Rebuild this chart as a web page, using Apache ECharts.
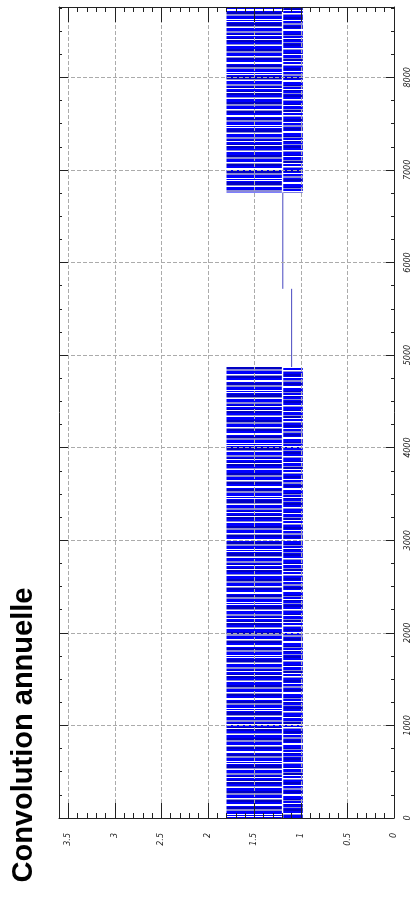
<!DOCTYPE html>
<html>
<head>
<meta charset="utf-8">
<script src="https://cdn.jsdelivr.net/npm/echarts@6/dist/echarts.min.js"></script>
<style>
html,body{margin:0;padding:0;background:#fff;}
#chart{width:414px;height:903px;}
</style>
</head>
<body>
<div id="chart"></div>
<script>
// ---- data ----
const titleText = 'Convolution annuelle';
// dense oscillating periods (hours of the year)
const denseStart = [0, 6756];
const denseEnd = [4871, 8760];
// envelope of the signal in the dense periods (upper and lower lobes)
const upperLo = [1.205, 1.205];
const upperHi = [1.80, 1.80];
const lowerLo = [0.98, 0.98];
const lowerHi = [1.19, 1.19];
// flat periods
const flat1Hours = [4871, 5716];
const flat1Values = [1.10, 1.10];
const flat2Hours = [5716, 6756];
const flat2Values = [1.195, 1.195];
// axes
const valueMajorTicks = [0, 0.5, 1, 1.5, 2, 2.5, 3, 3.5];
const valueMinorTicks = [0.1,0.2,0.3,0.4,0.6,0.7,0.8,0.9,1.1,1.2,1.3,1.4,1.6,1.7,1.8,1.9,2.1,2.2,2.3,2.4,2.6,2.7,2.8,2.9,3.1,3.2,3.3,3.4];
const hourMajorTicks = [0, 1000, 2000, 3000, 4000, 5000, 6000, 7000, 8000];
const hourMinorTicks = [250,500,750,1250,1500,1750,2250,2500,2750,3250,3500,3750,4250,4500,4750,5250,5500,5750,6250,6500,6750,7250,7500,7750,8250,8500,8750];
const valueMax = 3.6;
const hourMax = 8760;

// ---- stripe texture for the dense trace ----
function makePattern(rows) {
  const cmap = {B:'#0000ff', D:'#0000c4', W:'#ffffff', G:'#8a8ad6', L:'#3c3cf0'};
  const c = document.createElement('canvas');
  c.width = 4; c.height = rows.length;
  const ctx = c.getContext('2d');
  for (let i = 0; i < rows.length; i++) {
    ctx.fillStyle = cmap[rows[i]];
    ctx.fillRect(0, i, 4, 1);
  }
  return c;
}
const patUpper = makePattern('BBBWGDDBBWWBDDGGBBBWBWBDDDGWBBBGGBDWBBDWDDBBGWBBBDDGG'.split(''));
const patLower = makePattern('BBDWBBBGDDWBBWGBBDDBWBBGGBDDBWWBBBDGBBWDBBGBDDBBWGB'.split(''));

const bandData = [];
for (let i = 0; i < denseStart.length; i++) {
  bandData.push([denseStart[i], denseEnd[i], upperLo[i], upperHi[i], 0]);
  bandData.push([denseStart[i], denseEnd[i], lowerLo[i], lowerHi[i], 1]);
}

const axisColor = '#222';
const gridLine = {show: true, lineStyle: {color: '#ababab', width: 1, type: [4, 2]}};
const labelFont = {fontSize: 8, fontStyle: 'italic', fontFamily: 'DejaVu Sans', color: '#222'};

function xAx(pos, ticks, len, opts) {
  return Object.assign({
    type: 'value', position: pos, inverse: true, min: 0, max: valueMax, interval: 0.5,
    z: 5,
    axisLine: {show: false, onZero: false},
    axisTick: {show: true, inside: true, length: len, customValues: ticks, lineStyle: {color: axisColor, width: 1}},
    axisLabel: {show: false},
    splitLine: {show: false}
  }, opts || {});
}
function yAx(pos, ticks, len, opts) {
  return Object.assign({
    type: 'value', position: pos, min: 0, max: hourMax, interval: 1000,
    z: 5,
    axisLine: {show: false, onZero: false},
    axisTick: {show: true, inside: true, length: len, customValues: ticks, lineStyle: {color: axisColor, width: 1}},
    axisLabel: {show: false},
    splitLine: {show: false}
  }, opts || {});
}
const frameLine = {show: true, onZero: false, lineStyle: {color: axisColor, width: 1}};

const chart = echarts.init(document.getElementById('chart'), null, {renderer: 'canvas'});
chart.setOption({
  animation: false,
  backgroundColor: '#fff',
  grid: {left: 59, right: 20, top: 7, bottom: 85, containLabel: false},
  graphic: [{
    type: 'text', x: 24, y: 735, rotation: Math.PI / 2,
    style: {text: titleText, font: 'bold 29px "Liberation Sans"', fill: '#000', textAlign: 'center', textVerticalAlign: 'middle'}
  }],
  xAxis: [
    xAx('bottom', valueMajorTicks, 15, {
      axisLine: frameLine,
      axisLabel: Object.assign({show: true, customValues: valueMajorTicks, rotate: 90, margin: 15,
        formatter: v => String(v)}, labelFont),
      splitLine: gridLine
    }),
    xAx('bottom', valueMinorTicks, 5),
    xAx('top', valueMajorTicks, 15, {axisLine: frameLine}),
    xAx('top', valueMinorTicks, 5)
  ],
  yAxis: [
    yAx('right', hourMajorTicks, 8, {
      axisLine: frameLine,
      axisLabel: Object.assign({show: true, customValues: hourMajorTicks, rotate: 90, margin: 10,
        formatter: v => String(v)}, labelFont),
      splitLine: gridLine
    }),
    yAx('right', hourMinorTicks, 3),
    yAx('left', hourMajorTicks, 9, {axisLine: frameLine}),
    yAx('left', hourMinorTicks, 3)
  ],
  series: [
    {
      type: 'custom', xAxisIndex: 0, yAxisIndex: 0, z: 2,
      encode: {x: [2, 3], y: [0, 1]},
      data: bandData,
      renderItem: function (params, api) {
        const a = api.coord([api.value(2), api.value(0)]);
        const b = api.coord([api.value(3), api.value(1)]);
        const x = Math.min(a[0], b[0]), y = Math.min(a[1], b[1]);
        const w = Math.abs(a[0] - b[0]), h = Math.abs(a[1] - b[1]);
        const pat = api.value(4) === 0 ? patUpper : patLower;
        return {type: 'rect', shape: {x: x, y: y, width: w, height: h},
          style: {fill: {image: pat, repeat: 'repeat'}}};
      }
    },
    {
      type: 'line', xAxisIndex: 0, yAxisIndex: 0, showSymbol: false, symbol: 'none',
      data: flat1Hours.map((h, i) => [flat1Values[i], h]),
      lineStyle: {color: '#4848c0', width: 1}
    },
    {
      type: 'line', xAxisIndex: 0, yAxisIndex: 0, showSymbol: false, symbol: 'none',
      data: flat2Hours.map((h, i) => [flat2Values[i], h]),
      lineStyle: {color: '#4848c0', width: 1}
    }
  ]
});
</script>
</body>
</html>
